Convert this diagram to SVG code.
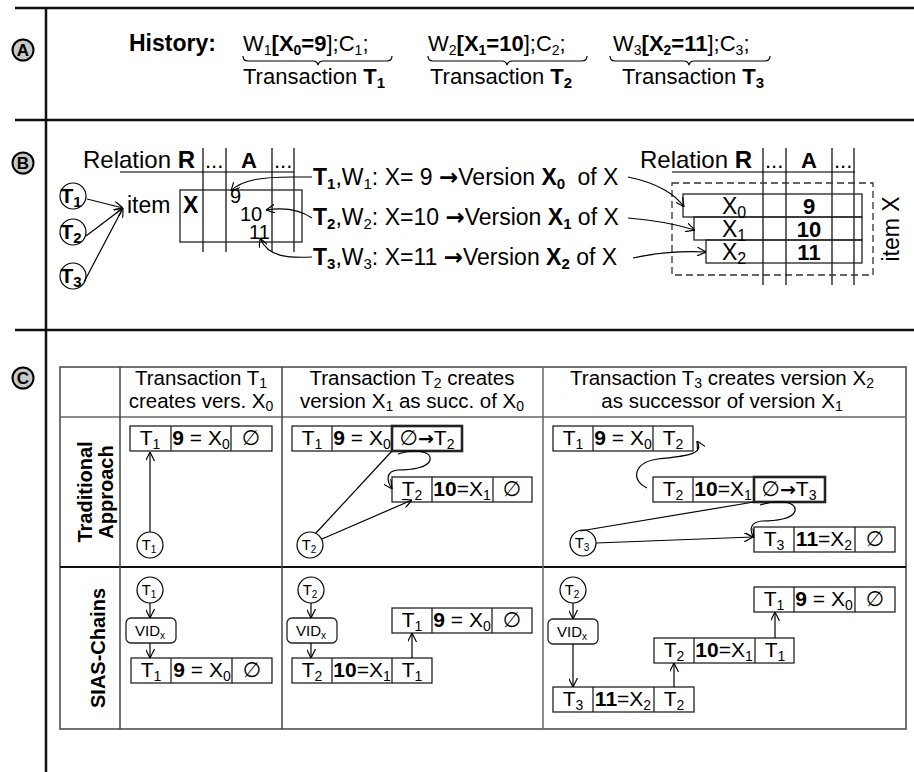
<svg xmlns="http://www.w3.org/2000/svg" width="914" height="772" viewBox="0 0 914 772">
<style>
text{font-family:"Liberation Sans","DejaVu Sans",Arial,sans-serif;fill:#000}
.b{font-weight:bold}
.ar{font-family:"DejaVu Sans",sans-serif;font-weight:bold}
.frame{stroke:#111;stroke-width:2.5;fill:none}
.ln{stroke:#000;stroke-width:1.2;fill:none}
.tbl{stroke:#444;stroke-width:1.5;fill:none}
.cell{stroke:#222;stroke-width:1.3;fill:none}
.hv{stroke:#222;stroke-width:2.6;fill:none}
.grey{stroke:#777;stroke-width:2;fill:none}
.dash{stroke:#333;stroke-width:1.3;fill:none;stroke-dasharray:7 4}
.lbl{fill:#c8c8c8;stroke:#000;stroke-width:2}
.cir{fill:#fff;stroke:#000;stroke-width:1.2}
.bt{font-size:21px}
.arr{stroke:#000;stroke-width:1.2;fill:none;marker-end:url(#ah)}
</style>
<defs>
<marker id="ah" viewBox="0 0 10 10" refX="10" refY="5" markerWidth="9" markerHeight="9" markerUnits="userSpaceOnUse" orient="auto">
<path d="M0,0 L10,5 L0,10" fill="none" stroke="#000" stroke-width="1.3"/>
</marker>
</defs>
<rect width="914" height="772" fill="#fff"/>

<g id="frame">
<line class="frame" x1="15" y1="8" x2="914" y2="8"/>
<line class="frame" x1="15" y1="120" x2="914" y2="120"/>
<line class="frame" x1="15" y1="330" x2="914" y2="330"/>
<line class="frame" x1="46" y1="8" x2="46" y2="772"/>
</g>

<g id="label-A"><circle class="lbl" cx="23" cy="50" r="10.5"/><text x="23" y="56" font-size="17" class="b" text-anchor="middle">A</text></g>
<g id="label-B"><circle class="lbl" cx="23" cy="163" r="10.5"/><text x="23" y="169" font-size="17" class="b" text-anchor="middle">B</text></g>
<g id="label-C"><circle class="lbl" cx="23" cy="378" r="10.5"/><text x="23" y="384" font-size="17" class="b" text-anchor="middle">C</text></g>

<!-- Section A -->
<g id="history">
<text x="129" y="51" font-size="23" class="b">History:</text>
<text x="243" y="51" font-size="22">W<tspan font-size="14" dy="4">1</tspan><tspan class="b" dy="-4">[X</tspan><tspan class="b" font-size="14" dy="4">0</tspan><tspan class="b" dy="-4">=9</tspan>];C<tspan font-size="14" dy="4">1</tspan><tspan dy="-4">;</tspan></text>
<text x="428" y="51" font-size="22">W<tspan font-size="14" dy="4">2</tspan><tspan class="b" dy="-4">[X</tspan><tspan class="b" font-size="14" dy="4">1</tspan><tspan class="b" dy="-4">=10</tspan>];C<tspan font-size="14" dy="4">2</tspan><tspan dy="-4">;</tspan></text>
<text x="613" y="51" font-size="22">W<tspan font-size="14" dy="4">3</tspan><tspan class="b" dy="-4">[X</tspan><tspan class="b" font-size="14" dy="4">2</tspan><tspan class="b" dy="-4">=11</tspan>];C<tspan font-size="14" dy="4">3</tspan><tspan dy="-4">;</tspan></text>
<path class="ln" stroke="#555" d="M243,56 q0,5 5,5 H313 q4,0 5,4 q1,-4 5,-4 H387 q5,0 5,-5"/>
<path class="ln" stroke="#555" d="M428,56 q0,5 5,5 H502 q4,0 5,4 q1,-4 5,-4 H582 q5,0 5,-5"/>
<path class="ln" stroke="#555" d="M610,56 q0,5 5,5 H684 q4,0 5,4 q1,-4 5,-4 H765 q5,0 5,-5"/>
<text x="243" y="84" font-size="22">Transaction <tspan class="b">T</tspan><tspan class="b" font-size="15" dy="4">1</tspan></text>
<text x="430" y="84" font-size="22">Transaction <tspan class="b">T</tspan><tspan class="b" font-size="15" dy="4">2</tspan></text>
<text x="622" y="84" font-size="22">Transaction <tspan class="b">T</tspan><tspan class="b" font-size="15" dy="4">3</tspan></text>
</g>

<!-- Section B left -->
<g id="relation-left">
<text x="83" y="168" font-size="24">Relation <tspan class="b">R</tspan></text>
<text x="205" y="168" font-size="22">...</text>
<text x="249" y="168" font-size="22" class="b" text-anchor="middle">A</text>
<text x="274" y="168" font-size="22">...</text>
<line class="grey" x1="120" y1="172" x2="294" y2="172"/>
<line class="ln" x1="203" y1="148" x2="203" y2="252"/>
<line class="ln" x1="226" y1="148" x2="226" y2="252"/>
<line class="ln" x1="272" y1="148" x2="272" y2="252"/>
<line class="ln" x1="294" y1="148" x2="294" y2="252"/>
<rect class="cell" x="180" y="190" width="122" height="52"/>
<text x="183" y="213" font-size="23" class="b">X</text>
<text x="230" y="203" font-size="20">9</text>
<text x="240" y="221" font-size="20">10</text>
<text x="249" y="239" font-size="20">11</text>
</g>
<g id="item-label"><text x="127" y="213" font-size="23">item</text></g>
<g id="bT1"><circle class="cir" cx="73" cy="196" r="13"/><text x="71" y="203" font-size="21" class="b" text-anchor="middle">T<tspan font-size="15" dy="4">1</tspan></text></g>
<g id="bT2"><circle class="cir" cx="73" cy="232" r="13"/><text x="71" y="239" font-size="21" class="b" text-anchor="middle">T<tspan font-size="15" dy="4">2</tspan></text></g>
<g id="bT3"><circle class="cir" cx="73" cy="276" r="13"/><text x="71" y="283" font-size="21" class="b" text-anchor="middle">T<tspan font-size="15" dy="4">3</tspan></text></g>

<g id="writes">
<text x="313" y="185" font-size="23"><tspan class="b">T</tspan><tspan class="b" font-size="15" dy="4">1</tspan><tspan dy="-4">,W</tspan><tspan font-size="15" dy="4">1</tspan><tspan dy="-4">: X= 9 </tspan><tspan class="ar">→</tspan>Version <tspan class="b">X</tspan><tspan class="b" font-size="15" dy="4">0</tspan><tspan dy="-4" dx="6"> of X</tspan></text>
<text x="313" y="225" font-size="23"><tspan class="b">T</tspan><tspan class="b" font-size="15" dy="4">2</tspan><tspan dy="-4">,W</tspan><tspan font-size="15" dy="4">2</tspan><tspan dy="-4">: X=10 </tspan><tspan class="ar">→</tspan>Version <tspan class="b">X</tspan><tspan class="b" font-size="15" dy="4">1</tspan><tspan dy="-4"> of X</tspan></text>
<text x="313" y="265" font-size="23"><tspan class="b">T</tspan><tspan class="b" font-size="15" dy="4">3</tspan><tspan dy="-4">,W</tspan><tspan font-size="15" dy="4">3</tspan><tspan dy="-4">: X=11 </tspan><tspan class="ar">→</tspan>Version <tspan class="b">X</tspan><tspan class="b" font-size="15" dy="4">2</tspan><tspan dy="-4"> of X</tspan></text>
</g>

<!-- Section B right -->
<g id="relation-right">
<text x="640" y="168" font-size="24">Relation <tspan class="b">R</tspan></text>
<text x="765" y="168" font-size="22">...</text>
<text x="809" y="168" font-size="22" class="b" text-anchor="middle">A</text>
<text x="834" y="168" font-size="22">...</text>
<line class="grey" x1="672" y1="172" x2="855" y2="172"/>
<line class="ln" x1="763" y1="148" x2="763" y2="285"/>
<line class="ln" x1="786" y1="148" x2="786" y2="285"/>
<line class="ln" x1="832" y1="148" x2="832" y2="285"/>
<line class="ln" x1="854" y1="148" x2="854" y2="285"/>
<rect class="dash" x="672" y="183" width="201" height="92"/>
<rect class="cell" x="683" y="194" width="179" height="23"/>
<rect class="cell" x="694" y="217" width="168" height="23"/>
<rect class="cell" x="706" y="240" width="156" height="23"/>
<text x="734" y="214" font-size="23" text-anchor="middle">X<tspan font-size="16" dy="4">0</tspan></text>
<text x="734" y="237" font-size="23" text-anchor="middle">X<tspan font-size="16" dy="4">1</tspan></text>
<text x="734" y="260" font-size="23" text-anchor="middle">X<tspan font-size="16" dy="4">2</tspan></text>
<text x="809" y="214" font-size="22" class="b" text-anchor="middle">9</text>
<text x="809" y="237" font-size="22" class="b" text-anchor="middle">10</text>
<text x="809" y="260" font-size="22" class="b" text-anchor="middle">11</text>
<text transform="translate(899,229) rotate(-90)" font-size="23" text-anchor="middle">item X</text>
</g>

<g id="connectors-B">
<line class="arr" x1="87" y1="199" x2="123" y2="208"/>
<line class="arr" x1="86" y1="236" x2="123" y2="208"/>
<line class="arr" x1="84" y1="282" x2="123" y2="208"/>
<path class="arr" d="M312,177 L292,177 C265,177 242,179 231,191"/>
<path class="arr" d="M312,218 C300,210 285,207 266,210"/>
<path class="arr" d="M312,257 C290,258 268,258 260,238"/>
<path class="arr" d="M628,177 C658,183 676,195 684,207"/>
<path class="arr" d="M628,218 C652,220 676,224 695,230"/>
<path class="arr" d="M633,258 C660,252 686,251 706,252"/>
</g>

<!-- Section C table -->
<g id="table">
<rect class="tbl" x="60" y="367" width="846" height="362"/>
<line x1="60" y1="417" x2="906" y2="417" stroke="#666" stroke-width="1.5"/>
<line x1="60" y1="567" x2="906" y2="567" stroke="#111" stroke-width="2"/>
<line class="tbl" x1="120" y1="367" x2="120" y2="729"/>
<line class="tbl" x1="282" y1="367" x2="282" y2="729"/>
<line x1="543" y1="367" x2="543" y2="729" stroke="#666" stroke-width="1.5"/>
<text x="201" y="385" font-size="20.5" text-anchor="middle">Transaction T<tspan font-size="14" dy="3">1</tspan></text>
<text x="201" y="408" font-size="20.5" text-anchor="middle">creates vers. X<tspan font-size="14" dy="3">0</tspan></text>
<text x="412" y="385" font-size="20.5" text-anchor="middle">Transaction T<tspan font-size="14" dy="3">2</tspan><tspan dy="-3"> creates</tspan></text>
<text x="412" y="408" font-size="20.5" text-anchor="middle">version X<tspan font-size="14" dy="3">1</tspan><tspan dy="-3"> as succ. of X</tspan><tspan font-size="14" dy="3">0</tspan></text>
<text x="722" y="385" font-size="20.5" text-anchor="middle">Transaction T<tspan font-size="14" dy="3">3</tspan><tspan dy="-3"> creates version X</tspan><tspan font-size="14" dy="3">2</tspan></text>
<text x="722" y="408" font-size="20.5" text-anchor="middle">as successor of version X<tspan font-size="14" dy="3">1</tspan></text>
<text transform="translate(92,492) rotate(-90)" font-size="20" class="b" text-anchor="middle">Traditional</text>
<text transform="translate(113,492) rotate(-90)" font-size="20" class="b" text-anchor="middle">Approach</text>
<text transform="translate(105,648) rotate(-90)" font-size="20" class="b" text-anchor="middle">SIAS-Chains</text>
</g>

<!-- Traditional col 2 -->
<g id="tr2-rec">
<rect class="cell" x="130" y="426" width="142" height="25"/>
<line class="cell" x1="171" y1="426" x2="171" y2="451"/><line class="cell" x1="231" y1="426" x2="231" y2="451"/>
<text class="bt" x="150" y="445" text-anchor="middle">T<tspan font-size="14" dy="4">1</tspan></text>
<text class="bt" x="201" y="445" text-anchor="middle"><tspan class="b">9</tspan> = X<tspan font-size="14" dy="4">0</tspan></text>
<text class="bt" x="251" y="445" text-anchor="middle">∅</text>
</g>
<g id="tr2-T1"><circle class="cir" cx="150" cy="545" r="13"/><text x="149" y="550" font-size="15" text-anchor="middle">T<tspan font-size="10" dy="3">1</tspan></text></g>

<!-- Traditional col 3 -->
<g id="tr3-rec1">
<rect class="cell" x="292" y="426" width="100" height="25"/>
<line class="cell" x1="332" y1="426" x2="332" y2="451"/>
<rect class="hv" x="392" y="426" width="70" height="25"/>
<text class="bt" x="312" y="445" text-anchor="middle">T<tspan font-size="14" dy="4">1</tspan></text>
<text class="bt" x="362" y="445" text-anchor="middle"><tspan class="b">9</tspan> = X<tspan font-size="14" dy="4">0</tspan></text>
<text class="bt" x="427" y="445" text-anchor="middle">∅<tspan class="ar" font-size="19">→</tspan>T<tspan font-size="14" dy="4">2</tspan></text>
</g>
<g id="tr3-rec2">
<rect class="cell" x="392" y="477" width="140" height="25"/>
<line class="cell" x1="432" y1="477" x2="432" y2="502"/><line class="cell" x1="493" y1="477" x2="493" y2="502"/>
<text class="bt" x="412" y="496" text-anchor="middle">T<tspan font-size="14" dy="4">2</tspan></text>
<text class="bt" x="462" y="496" text-anchor="middle"><tspan class="b">10</tspan>=X<tspan font-size="14" dy="4">1</tspan></text>
<text class="bt" x="512" y="496" text-anchor="middle">∅</text>
</g>
<g id="tr3-T2"><circle class="cir" cx="310" cy="545" r="13"/><text x="309" y="550" font-size="15" text-anchor="middle">T<tspan font-size="10" dy="3">2</tspan></text></g>

<!-- Traditional col 4 -->
<g id="tr4-rec1">
<rect class="cell" x="553" y="426" width="140" height="25"/>
<line class="cell" x1="593" y1="426" x2="593" y2="451"/><line class="cell" x1="653" y1="426" x2="653" y2="451"/>
<text class="bt" x="573" y="445" text-anchor="middle">T<tspan font-size="14" dy="4">1</tspan></text>
<text class="bt" x="623" y="445" text-anchor="middle"><tspan class="b">9</tspan> = X<tspan font-size="14" dy="4">0</tspan></text>
<text class="bt" x="673" y="445" text-anchor="middle">T<tspan font-size="14" dy="4">2</tspan></text>
</g>
<g id="tr4-rec2">
<rect class="cell" x="653" y="477" width="101" height="25"/>
<line class="cell" x1="693" y1="477" x2="693" y2="502"/>
<rect class="hv" x="754" y="477" width="71" height="25"/>
<text class="bt" x="673" y="496" text-anchor="middle">T<tspan font-size="14" dy="4">2</tspan></text>
<text class="bt" x="723" y="496" text-anchor="middle"><tspan class="b">10</tspan>=X<tspan font-size="14" dy="4">1</tspan></text>
<text class="bt" x="789" y="496" text-anchor="middle">∅<tspan class="ar" font-size="19">→</tspan>T<tspan font-size="14" dy="4">3</tspan></text>
</g>
<g id="tr4-rec3">
<rect class="cell" x="754" y="527" width="141" height="25"/>
<line class="cell" x1="794" y1="527" x2="794" y2="552"/><line class="cell" x1="855" y1="527" x2="855" y2="552"/>
<text class="bt" x="774" y="546" text-anchor="middle">T<tspan font-size="14" dy="4">3</tspan></text>
<text class="bt" x="824" y="546" text-anchor="middle"><tspan class="b">11</tspan>=X<tspan font-size="14" dy="4">2</tspan></text>
<text class="bt" x="875" y="546" text-anchor="middle">∅</text>
</g>
<g id="tr4-T3"><circle class="cir" cx="583" cy="543" r="13"/><text x="582" y="548" font-size="15" text-anchor="middle">T<tspan font-size="10" dy="3">3</tspan></text></g>

<!-- SIAS col 2 -->
<g id="s2-T1"><circle class="cir" cx="150" cy="590" r="13"/><text x="149" y="595" font-size="15" text-anchor="middle">T<tspan font-size="10" dy="3">1</tspan></text></g>
<g id="s2-vid"><rect class="cell" x="126" y="618" width="50" height="25" rx="5"/><text x="150" y="636" font-size="15" text-anchor="middle">VID<tspan font-size="10" dy="3">x</tspan></text></g>
<g id="s2-rec">
<rect class="cell" x="131" y="658" width="141" height="25"/>
<line class="cell" x1="171" y1="658" x2="171" y2="683"/><line class="cell" x1="232" y1="658" x2="232" y2="683"/>
<text class="bt" x="151" y="677" text-anchor="middle">T<tspan font-size="14" dy="4">1</tspan></text>
<text class="bt" x="202" y="677" text-anchor="middle"><tspan class="b">9</tspan> = X<tspan font-size="14" dy="4">0</tspan></text>
<text class="bt" x="252" y="677" text-anchor="middle">∅</text>
</g>

<!-- SIAS col 3 -->
<g id="s3-T2"><circle class="cir" cx="311" cy="590" r="13"/><text x="310" y="595" font-size="15" text-anchor="middle">T<tspan font-size="10" dy="3">2</tspan></text></g>
<g id="s3-vid"><rect class="cell" x="287" y="618" width="50" height="25" rx="5"/><text x="311" y="636" font-size="15" text-anchor="middle">VID<tspan font-size="10" dy="3">x</tspan></text></g>
<g id="s3-rec1">
<rect class="cell" x="392" y="608" width="140" height="25"/>
<line class="cell" x1="432" y1="608" x2="432" y2="633"/><line class="cell" x1="492" y1="608" x2="492" y2="633"/>
<text class="bt" x="412" y="627" text-anchor="middle">T<tspan font-size="14" dy="4">1</tspan></text>
<text class="bt" x="462" y="627" text-anchor="middle"><tspan class="b">9</tspan> = X<tspan font-size="14" dy="4">0</tspan></text>
<text class="bt" x="512" y="627" text-anchor="middle">∅</text>
</g>
<g id="s3-rec2">
<rect class="cell" x="292" y="658" width="140" height="25"/>
<line class="cell" x1="332" y1="658" x2="332" y2="683"/><line class="cell" x1="392" y1="658" x2="392" y2="683"/>
<text class="bt" x="312" y="677" text-anchor="middle">T<tspan font-size="14" dy="4">2</tspan></text>
<text class="bt" x="362" y="677" text-anchor="middle"><tspan class="b">10</tspan>=X<tspan font-size="14" dy="4">1</tspan></text>
<text class="bt" x="412" y="677" text-anchor="middle">T<tspan font-size="14" dy="4">1</tspan></text>
</g>

<!-- SIAS col 4 -->
<g id="s4-T2"><circle class="cir" cx="573" cy="590" r="13"/><text x="572" y="595" font-size="15" text-anchor="middle">T<tspan font-size="10" dy="3">2</tspan></text></g>
<g id="s4-vid"><rect class="cell" x="548" y="619" width="50" height="25" rx="5"/><text x="572" y="637" font-size="15" text-anchor="middle">VID<tspan font-size="10" dy="3">x</tspan></text></g>
<g id="s4-rec1">
<rect class="cell" x="754" y="587" width="141" height="25"/>
<line class="cell" x1="794" y1="587" x2="794" y2="612"/><line class="cell" x1="855" y1="587" x2="855" y2="612"/>
<text class="bt" x="774" y="606" text-anchor="middle">T<tspan font-size="14" dy="4">1</tspan></text>
<text class="bt" x="824" y="606" text-anchor="middle"><tspan class="b">9</tspan> = X<tspan font-size="14" dy="4">0</tspan></text>
<text class="bt" x="875" y="606" text-anchor="middle">∅</text>
</g>
<g id="s4-rec2">
<rect class="cell" x="654" y="638" width="140" height="25"/>
<line class="cell" x1="694" y1="638" x2="694" y2="663"/><line class="cell" x1="755" y1="638" x2="755" y2="663"/>
<text class="bt" x="674" y="657" text-anchor="middle">T<tspan font-size="14" dy="4">2</tspan></text>
<text class="bt" x="724" y="657" text-anchor="middle"><tspan class="b">10</tspan>=X<tspan font-size="14" dy="4">1</tspan></text>
<text class="bt" x="775" y="657" text-anchor="middle">T<tspan font-size="14" dy="4">1</tspan></text>
</g>
<g id="s4-rec3">
<rect class="cell" x="553" y="687" width="141" height="25"/>
<line class="cell" x1="593" y1="687" x2="593" y2="712"/><line class="cell" x1="654" y1="687" x2="654" y2="712"/>
<text class="bt" x="573" y="706" text-anchor="middle">T<tspan font-size="14" dy="4">3</tspan></text>
<text class="bt" x="623" y="706" text-anchor="middle"><tspan class="b">11</tspan>=X<tspan font-size="14" dy="4">2</tspan></text>
<text class="bt" x="674" y="706" text-anchor="middle">T<tspan font-size="14" dy="4">2</tspan></text>
</g>

<g id="connectors-C">
<line class="arr" x1="150" y1="532" x2="150" y2="452"/>
<line class="ln" x1="316" y1="533" x2="392" y2="451"/>
<line class="arr" x1="322" y1="539" x2="412" y2="500"/>
<path class="arr" d="M398,454 C412,449 432,450 430,460 C428,468 410,470 398,470 C386,471 386,480 392,489"/>
<path class="arr" d="M647,488 C630,480 634,462 658,459 C685,456 705,455 697,441"/>
<line class="ln" x1="580" y1="531" x2="754" y2="502"/>
<line class="arr" x1="596" y1="543" x2="753" y2="537"/>
<path class="arr" d="M760,505 C775,500 797,500 795,511 C793,519 775,521 762,521 C750,522 749,530 754,538"/>
<line class="arr" x1="150" y1="603" x2="150" y2="618"/>
<line class="arr" x1="150" y1="643" x2="150" y2="658"/>
<line class="arr" x1="311" y1="603" x2="311" y2="618"/>
<line class="arr" x1="311" y1="643" x2="311" y2="658"/>
<line class="arr" x1="412" y1="658" x2="412" y2="633"/>
<line class="arr" x1="573" y1="603" x2="573" y2="619"/>
<line class="arr" x1="573" y1="644" x2="573" y2="687"/>
<line class="arr" x1="674" y1="687" x2="674" y2="663"/>
<line class="arr" x1="775" y1="638" x2="775" y2="612"/>
</g>
</svg>
